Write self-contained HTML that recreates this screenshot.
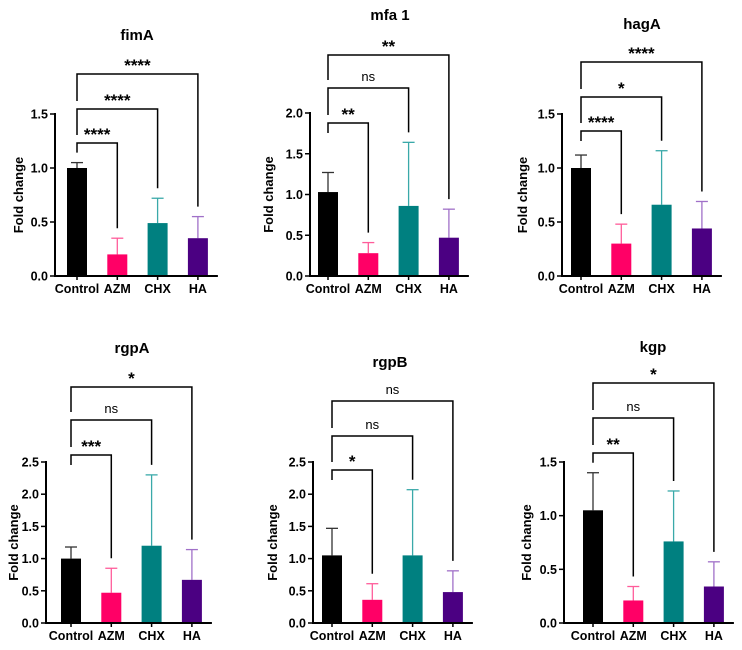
<!DOCTYPE html>
<html><head><meta charset="utf-8">
<style>
body{margin:0;background:#fff;}
svg{display:block;font-family:"Liberation Sans",Arial,sans-serif;}
</style></head>
<body>
<svg id="chart" width="742" height="650" viewBox="0 0 742 650"></svg>
<script>
const categories = ["Control","AZM","CHX","HA"];
const titles = ["fimA","mfa 1","hagA","rgpA","rgpB","kgp"];
const meansFimA = [1.0,0.2,0.49,0.35];
const errsFimA = [1.05,0.35,0.72,0.55];
const meansMfa = [1.03,0.28,0.86,0.47];
const errsMfa = [1.27,0.41,1.64,0.82];
const meansHagA = [1.0,0.3,0.66,0.44];
const errsHagA = [1.12,0.48,1.16,0.69];
const meansRgpA = [1.0,0.47,1.2,0.67];
const errsRgpA = [1.18,0.85,2.3,1.14];
const meansRgpB = [1.05,0.36,1.05,0.48];
const errsRgpB = [1.47,0.61,2.07,0.81];
const meansKgp = [1.05,0.21,0.76,0.34];
const errsKgp = [1.4,0.34,1.23,0.57];
const sigFimA = ["****","****","****"];
const sigMfa = ["**","ns","**"];
const sigHagA = ["****","*","****"];
const sigRgpA = ["***","ns","*"];
const sigRgpB = ["*","ns","ns"];
const sigKgp = ["**","ns","*"];
const ticks15 = [0,0.5,1.0,1.5];
const ticks20 = [0,0.5,1.0,1.5,2.0];
const ticks25 = [0,0.5,1.0,1.5,2.0,2.5];

const fills=["#000000","#ff0066","#008080","#4b0082"];
const errCols=["#333333","#ff5c9a","#3aa9a9","#a070c8"];
const NS="http://www.w3.org/2000/svg";
const svg=document.getElementById("chart");
function mk(tag,attrs,parent,text){const e=document.createElementNS(NS,tag);for(const k in attrs)e.setAttribute(k,attrs[k]);if(text!==undefined)e.textContent=text;(parent||svg).appendChild(e);return e;}

const panels=[
 {t:0,m:meansFimA,e:errsFimA,s:sigFimA,ticks:ticks15,max:1.5,ax:55,x0:77,y0:276,ytop:114,br:[143,109,74],ty:40,tx:137,ylx:18},
 {t:1,m:meansMfa,e:errsMfa,s:sigMfa,ticks:ticks20,max:2.0,ax:310,x0:328,y0:276,ytop:113,br:[123,88,55],ty:20,tx:390,ylx:268},
 {t:2,m:meansHagA,e:errsHagA,s:sigHagA,ticks:ticks15,max:1.5,ax:562,x0:581,y0:276,ytop:114,br:[131,97,62],ty:29,tx:642,ylx:522},
 {t:3,m:meansRgpA,e:errsRgpA,s:sigRgpA,ticks:ticks25,max:2.5,ax:46,x0:71,y0:623,ytop:462,br:[455,420,387],ty:353,tx:132,ylx:13},
 {t:4,m:meansRgpB,e:errsRgpB,s:sigRgpB,ticks:ticks25,max:2.5,ax:313,x0:332,y0:623,ytop:462,br:[470,436,401],ty:367,tx:390,ylx:272},
 {t:5,m:meansKgp,e:errsKgp,s:sigKgp,ticks:ticks15,max:1.5,ax:564,x0:593,y0:623,ytop:462,br:[453,418,383],ty:352,tx:653,ylx:526}
];
const step=40.3,bw=20;
panels.forEach((p,pi)=>{
 const g=mk("g",{},svg);
 
 
 const y=v=>p.y0-(v/p.max)*(p.y0-p.ytop);
 const x=i=>p.x0+i*step;
 const tt=mk("text",{x:p.tx,y:p.ty,"text-anchor":"middle","font-size":"15","font-weight":"bold"},g,titles[p.t]);
 
 
 p.m.forEach((v,i)=>{
  const ec=mk("line",{x1:x(i),x2:x(i),y1:y(v),y2:y(p.e[i]),stroke:errCols[i],"stroke-width":1.3},g);
  
  
  mk("line",{x1:x(i)-6,x2:x(i)+6,y1:y(p.e[i]),y2:y(p.e[i]),stroke:errCols[i],"stroke-width":1.3},g);
  const r=mk("rect",{x:x(i)-bw/2,y:y(v),width:bw,height:p.y0-y(v),fill:fills[i]},g);
  
  
  const lb=mk("text",{x:x(i),y:p.y0+17,"text-anchor":"middle","font-size":"12.5","font-weight":"bold"},g,categories[i]);
  
  
  mk("line",{x1:x(i),x2:x(i),y1:p.y0,y2:p.y0+4,stroke:"#000","stroke-width":1.5},g);
 });
 const ya=mk("line",{x1:p.ax,x2:p.ax,y1:p.ytop-1,y2:p.y0+1,stroke:"#000","stroke-width":2},g);
 
 
 const xa=mk("line",{x1:p.ax-1,x2:x(3)+20,y1:p.y0,y2:p.y0,stroke:"#000","stroke-width":2},g);
 
 
 p.ticks.forEach(tv=>{
  mk("line",{x1:p.ax-5,x2:p.ax,y1:y(tv),y2:y(tv),stroke:"#000","stroke-width":1.5},g);
  const tl=mk("text",{x:p.ax-7,y:y(tv)+4.5,"text-anchor":"end","font-size":"12.5","font-weight":"bold"},g,tv.toFixed(1));
  
  
 });
 const cy=(p.y0+p.ytop)/2;
 const yl=mk("text",{x:0,y:0,transform:`translate(${p.ylx+5},${cy}) rotate(-90)`,"text-anchor":"middle","font-size":"13","font-weight":"bold"},g,"Fold change");
 
 
 p.s.forEach((lab,k)=>{
  const by=p.br[k], j=k+1;
  const leftEnd = k===0 ? Math.min(y(p.e[0])-10, by+10) : p.br[k-1]-8;
  const rightEnd = y(p.e[j])-10;
  const pth=mk("path",{d:`M${x(0)},${leftEnd}V${by}H${x(j)}V${rightEnd}`,fill:"none",stroke:"#000","stroke-width":1.5},g);
  
  
  const isNs=lab==="ns";
  const st=mk("text",{x:(x(0)+x(j))/2,y:isNs?by-7:by-3,"text-anchor":"middle","font-size":isNs?"13":"17","font-weight":isNs?"normal":"bold"},g,lab);
  
  
 });
});
</script>
</body></html>
